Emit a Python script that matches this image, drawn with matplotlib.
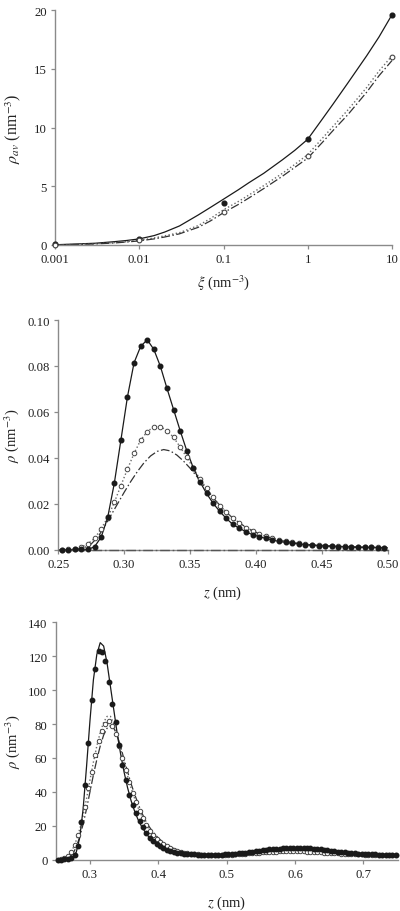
import numpy as np
import matplotlib
matplotlib.use("Agg")
import matplotlib.pyplot as plt
from matplotlib.ticker import FixedLocator, NullLocator

plt.rcParams['font.family'] = ['Liberation Serif', 'DejaVu Serif']
plt.rcParams['mathtext.fontset'] = 'stix'

# ---------------- Panel 1 data ----------------
xi_pts = [0.001, 0.01, 0.1, 1, 10]
rho_av_filled = [0.05, 0.5, 3.6, 9.0, 19.55]
rho_av_open = [0.02, 0.4, 2.8, 7.6, 16.0]

xi_line = [0.001, 0.002, 0.003, 0.005, 0.007, 0.01, 0.015, 0.02, 0.03, 0.05, 0.07,
           0.1, 0.15, 0.2, 0.3, 0.5, 0.7, 1, 1.5, 2, 3, 5, 7, 10]
rho_av_solid = [0.02, 0.1, 0.15, 0.28, 0.38, 0.52, 0.8, 1.1, 1.62, 2.55, 3.2,
                3.9, 4.7, 5.3, 6.1, 7.25, 8.05, 9.0, 10.75, 12.0, 13.8, 16.1, 17.7, 19.6]
rho_av_dotted = [0.01, 0.06, 0.1, 0.2, 0.28, 0.4, 0.6, 0.78, 1.05, 1.65, 2.25,
                 3.0, 3.7, 4.25, 5.05, 6.1, 6.85, 7.7, 9.1, 10.1, 11.5, 13.4, 14.8, 16.1]
rho_av_dashdot = [0.01, 0.05, 0.09, 0.17, 0.25, 0.35, 0.52, 0.68, 0.95, 1.5, 2.05,
                  2.75, 3.45, 4.0, 4.8, 5.85, 6.6, 7.4, 8.75, 9.75, 11.1, 13.0, 14.4, 15.7]

# ---------------- Panel 2 data ----------------
z2_pts = np.round(0.2525 + 0.005 * np.arange(50), 4)
rho2_filled = [0, 0, 0.0001, 0.0001, 0.0001, 0.0013, 0.0054, 0.0141, 0.0289, 0.0477,
               0.0666, 0.0814, 0.0885, 0.0914, 0.0872, 0.0798, 0.0702, 0.0610, 0.0518, 0.0431,
               0.0356, 0.0296, 0.0245, 0.0202, 0.0167, 0.0136, 0.0110, 0.0093, 0.0078, 0.0065,
               0.0057, 0.0049, 0.0042, 0.0036, 0.0032, 0.0028, 0.0025, 0.0022, 0.0019, 0.0017,
               0.0016, 0.0015, 0.0013, 0.0013, 0.0012, 0.0010, 0.0010, 0.0010, 0.0009, 0.0009]
rho2_open = [0, 0.0001, 0.0004, 0.0012, 0.0026, 0.0049, 0.0091, 0.0140, 0.0206, 0.0279,
             0.0351, 0.0419, 0.0477, 0.0514, 0.0536, 0.0536, 0.0518, 0.0489, 0.0447, 0.0402,
             0.0355, 0.0308, 0.0267, 0.0228, 0.0192, 0.0165, 0.0136, 0.0115, 0.0096, 0.0080,
             0.0068, 0.0058, 0.0050, 0.0043, 0.0037, 0.0032, 0.0028, 0.0025, 0.0022, 0.0020,
             0.0018, 0.0016, 0.0015, 0.0014, 0.0013, 0.0012, 0.0011, 0.0010, 0.0010, 0.0009]
z2_line = np.round(0.25 + 0.005 * np.arange(51), 3)
rho2_dashdot = [0, 0, 0.0001, 0.0003, 0.0010, 0.0025, 0.0055, 0.0100, 0.0150, 0.0200,
                0.0250, 0.0297, 0.0340, 0.0378, 0.0408, 0.0428, 0.0436, 0.0430, 0.0412, 0.0386,
                0.0355, 0.0320, 0.0282, 0.0245, 0.0210, 0.0178, 0.0150, 0.0127, 0.0107, 0.0090,
                0.0076, 0.0064, 0.0054, 0.0046, 0.0039, 0.0034, 0.0029, 0.0025, 0.0022, 0.0020,
                0.0018, 0.0016, 0.0015, 0.0014, 0.0013, 0.0012, 0.0011, 0.0010, 0.0010, 0.0009, 0.0009]
z2_zero = [0.25, 0.50]
rho2_zero = [0, 0]

# ---------------- Panel 3 data ----------------
z3_pts = np.round(0.2525 + 0.005 * np.arange(100), 4)
rho3_filled = [0, 0, 0.2, 0.5, 1.0, 2.5, 8.3, 22.4, 43.9, 69,
               94, 112.7, 123, 122.5, 117, 104.5, 92, 81, 67.5, 56,
               47, 38, 32.5, 27.5, 23, 19, 15.5, 13, 11, 9.5,
               8, 7, 6, 5.3, 4.7, 4.2, 3.8, 3.5, 3.3, 3.2,
               3.1, 3.0, 3.0, 3.0, 2.9, 2.9, 2.9, 3.0, 3.0, 3.1,
               3.2, 3.3, 3.5, 3.7, 3.9, 4.2, 4.5, 4.8, 5.1, 5.4,
               5.7, 5.9, 6.1, 6.3, 6.5, 6.6, 6.7, 6.8, 6.9, 6.9,
               7.0, 7.0, 7.0, 6.9, 6.8, 6.6, 6.4, 6.2, 5.9, 5.6,
               5.3, 5.0, 4.8, 4.5, 4.3, 4.1, 3.9, 3.7, 3.6, 3.5,
               3.4, 3.3, 3.2, 3.1, 3.0, 2.9, 2.9, 2.8, 2.8, 2.7]
rho3_open = [0, 0.3, 0.8, 2.0, 4.5, 8.5, 14.5, 22, 31, 42,
             52, 62, 70, 76, 80, 81.5, 79, 74, 67, 60,
             53, 46, 39.5, 34, 29, 24.5, 20.5, 17, 14.5, 12.5,
             10.5, 9, 7.8, 6.8, 6.0, 5.3, 4.7, 4.2, 3.8, 3.5,
             3.3, 3.1, 3.0, 2.9, 2.9, 2.8, 2.8, 2.8, 2.8, 2.9,
             2.9, 3.0, 3.1, 3.2, 3.4, 3.5, 3.7, 3.9, 4.1, 4.2,
             4.4, 4.5, 4.6, 4.7, 4.8, 4.9, 4.9, 5.0, 5.0, 5.0,
             5.0, 4.9, 4.9, 4.8, 4.7, 4.6, 4.5, 4.4, 4.2, 4.1,
             4.0, 3.9, 3.7, 3.6, 3.5, 3.4, 3.3, 3.2, 3.1, 3.1,
             3.0, 2.9, 2.9, 2.8, 2.8, 2.7, 2.7, 2.7, 2.6, 2.6]
z3_line = np.round(0.25 + 0.005 * np.arange(101), 3)
rho3_solid = [0, 0, 0.1, 0.3, 0.7, 1.8, 4.5, 13, 30, 55,
              82, 106, 121, 128, 126, 116, 102, 88, 74, 62,
              51.5, 42.5, 35, 29, 24, 20, 16.8, 14, 11.8, 10,
              8.6, 7.5, 6.5, 5.8, 5.2, 4.7, 4.3, 4.0, 3.7, 3.5,
              3.3, 3.2, 3.1, 3.0, 3.0, 3.0, 2.9, 2.9, 3.0, 3.0,
              3.1, 3.2, 3.4, 3.6, 3.8, 4.0, 4.3, 4.6, 5.0, 5.3,
              5.5, 5.8, 6.0, 6.2, 6.4, 6.5, 6.6, 6.7, 6.8, 6.9,
              7.0, 7.0, 7.0, 7.0, 6.9, 6.7, 6.5, 6.3, 6.0, 5.8,
              5.5, 5.2, 4.9, 4.6, 4.4, 4.2, 4.0, 3.8, 3.7, 3.5,
              3.4, 3.3, 3.2, 3.1, 3.0, 3.0, 2.9, 2.8, 2.8, 2.7, 2.7]
rho3_dotted = [0, 0.1, 0.5, 1.3, 3.0, 6.5, 11.5, 18, 26, 36,
               47, 57.5, 67, 75, 81, 84.5, 84.5, 80, 73, 65,
               57, 49.5, 42.5, 36.5, 31, 26.5, 22.5, 19, 16, 13.6,
               11.6, 10, 8.6, 7.5, 6.6, 5.8, 5.2, 4.7, 4.3, 4.0,
               3.7, 3.5, 3.3, 3.2, 3.1, 3.0, 3.0, 3.0, 3.0, 3.0,
               3.0, 3.1, 3.2, 3.3, 3.5, 3.6, 3.8, 4.0, 4.2, 4.3,
               4.5, 4.6, 4.7, 4.8, 4.9, 5.0, 5.0, 5.1, 5.1, 5.1,
               5.1, 5.0, 5.0, 4.9, 4.8, 4.7, 4.6, 4.5, 4.3, 4.2,
               4.1, 4.0, 3.8, 3.7, 3.6, 3.5, 3.4, 3.3, 3.2, 3.2,
               3.1, 3.0, 3.0, 2.9, 2.9, 2.8, 2.8, 2.8, 2.7, 2.7, 2.7]
rho3_dashdot = [0, 0, 0.2, 0.6, 1.5, 3.5, 7.5, 13.5, 21, 30,
                40, 50, 59, 67, 73.5, 77.5, 79, 77.5, 73, 66.5,
                59, 52, 45, 39, 33.5, 28.5, 24, 20.5, 17.5, 15,
                12.8, 11, 9.5, 8.2, 7.1, 6.2, 5.5, 4.9, 4.4, 4.0,
                3.7, 3.5, 3.3, 3.2, 3.1, 3.0, 3.0, 2.9, 2.9, 2.9,
                2.9, 3.0, 3.1, 3.2, 3.3, 3.5, 3.6, 3.8, 3.9, 4.1,
                4.2, 4.3, 4.4, 4.5, 4.6, 4.7, 4.7, 4.8, 4.8, 4.8,
                4.8, 4.8, 4.7, 4.7, 4.6, 4.5, 4.4, 4.3, 4.2, 4.1,
                4.0, 3.9, 3.7, 3.6, 3.5, 3.4, 3.3, 3.2, 3.2, 3.1,
                3.0, 3.0, 2.9, 2.9, 2.8, 2.8, 2.7, 2.7, 2.7, 2.6, 2.6]

# ---------------- Styling ----------------
SPINE = '#8a8a8a'
DARK = '#1a1a1a'
GREY = '#6a6a6a'
DASHDOT = (0, (7, 2, 1.2, 2))
TICK_FS = 9.2
LABEL_FS = 10.5

fig = plt.figure(figsize=(4.0, 9.12), dpi=100)
W, H = 400.0, 912.0


def make_ax(left, right, top, bottom):
    ax = fig.add_axes([left / W, 1 - bottom / H, (right - left) / W, (bottom - top) / H])
    for s in ('top', 'right'):
        ax.spines[s].set_visible(False)
    for s in ('left', 'bottom'):
        ax.spines[s].set_color(SPINE)
        ax.spines[s].set_linewidth(1.0)
    ax.tick_params(axis='both', which='major', direction='out', length=3,
                   width=0.9, color=SPINE, labelsize=TICK_FS, labelcolor='#222222')
    ax.tick_params(axis='x', pad=3)
    ax.tick_params(axis='y', pad=3)
    return ax


def set_labels(ax, xl, yl, xlab_y, ylab_x):
    ax.set_xlabel(xl, fontsize=LABEL_FS, color='#222222')
    ax.set_ylabel(yl, fontsize=LABEL_FS, color='#222222')
    ax.xaxis.label.set_va('center')
    ax.yaxis.label.set_va('center')
    ax.xaxis.set_label_coords(0.5, xlab_y)
    ax.yaxis.set_label_coords(ylab_x, 0.5)


# ---------------- Panel 1 ----------------
ax1 = make_ax(55, 392, 11, 246)
ax1.set_xscale('log')
ax1.plot(xi_line, rho_av_solid, '-', color=DARK, lw=0.9, clip_on=False)
ax1.plot(xi_line, rho_av_dotted, ':', color=GREY, lw=1.0, clip_on=False)
ax1.plot(xi_line, rho_av_dashdot, linestyle=DASHDOT, color='#333333', lw=0.9, clip_on=False)
ax1.plot(xi_pts, rho_av_filled, 'o', ms=3.4, mfc=DARK, mec=DARK, clip_on=False, zorder=5)
ax1.plot(xi_pts, rho_av_open, 'o', ms=3.4, mfc='white', mec='#444444', mew=0.8, clip_on=False, zorder=5)
ax1.set_xlim(0.001, 10)
ax1.set_ylim(0, 20)
ax1.xaxis.set_major_locator(FixedLocator([0.001, 0.01, 0.1, 1, 10]))
ax1.xaxis.set_minor_locator(NullLocator())
ax1.set_xticklabels(['0.001', '0.01', '0.1', '1', '10'])
ax1.set_yticks([0, 5, 10, 15, 20])
set_labels(ax1, r'$\xi$ (nm$^{-3}$)', r'$\rho_{av}$ (nm$^{-3}$)', -0.157, -0.125)
ax1.yaxis.label.set_fontsize(11.5)

# ---------------- Panel 2 ----------------
ax2 = make_ax(58.3, 387.7, 321, 550.7)
ax2.plot(z2_zero, rho2_zero, linestyle=DASHDOT, color='#555555', lw=1.0, clip_on=False, zorder=4)
ax2.plot(z2_line, rho2_dashdot, linestyle=DASHDOT, color='#333333', lw=0.9)
ax2.plot(z2_pts, rho2_open, ':', color=GREY, lw=1.0)
ax2.plot(z2_pts, rho2_filled, '-', color=DARK, lw=0.9)
ax2.plot(z2_pts, rho2_open, 'o', ms=3.3, mfc='white', mec='#444444', mew=0.7, clip_on=False, zorder=5)
ax2.plot(z2_pts, rho2_filled, 'o', ms=3.3, mfc=DARK, mec=DARK, clip_on=False, zorder=6)
ax2.set_xlim(0.25, 0.50)
ax2.set_ylim(0, 0.10)
ax2.set_xticks([0.25, 0.30, 0.35, 0.40, 0.45, 0.50])
ax2.set_xticklabels(['0.25', '0.30', '0.35', '0.40', '0.45', '0.50'])
ax2.set_yticks([0, 0.02, 0.04, 0.06, 0.08, 0.10])
ax2.set_yticklabels(['0.00', '0.02', '0.04', '0.06', '0.08', '0.10'])
set_labels(ax2, r'$z$ (nm)', r'$\rho$ (nm$^{-3}$)', -0.184, -0.141)

# ---------------- Panel 3 ----------------
ax3 = make_ax(55.8, 397.5, 623.3, 860.7)
ax3.plot(z3_line, rho3_dashdot, linestyle=DASHDOT, color='#333333', lw=0.9)
ax3.plot(z3_line, rho3_dotted, ':', color=GREY, lw=1.0)
ax3.plot(z3_line, rho3_solid, '-', color=DARK, lw=0.9)
ax3.plot(z3_pts, rho3_open, 'o', ms=3.2, mfc='white', mec='#444444', mew=0.7, clip_on=False, zorder=5)
ax3.plot(z3_pts, rho3_filled, 'o', ms=3.2, mfc=DARK, mec=DARK, clip_on=False, zorder=6)
ax3.set_xlim(0.25, 0.75)
ax3.set_ylim(0, 140)
ax3.set_xticks([0.3, 0.4, 0.5, 0.6, 0.7])
ax3.set_xticklabels(['0.3', '0.4', '0.5', '0.6', '0.7'])
ax3.set_yticks([0, 20, 40, 60, 80, 100, 120, 140])
set_labels(ax3, r'$z$ (nm)', r'$\rho$ (nm$^{-3}$)', -0.179, -0.126)

fig.savefig('out.png', dpi=100)
